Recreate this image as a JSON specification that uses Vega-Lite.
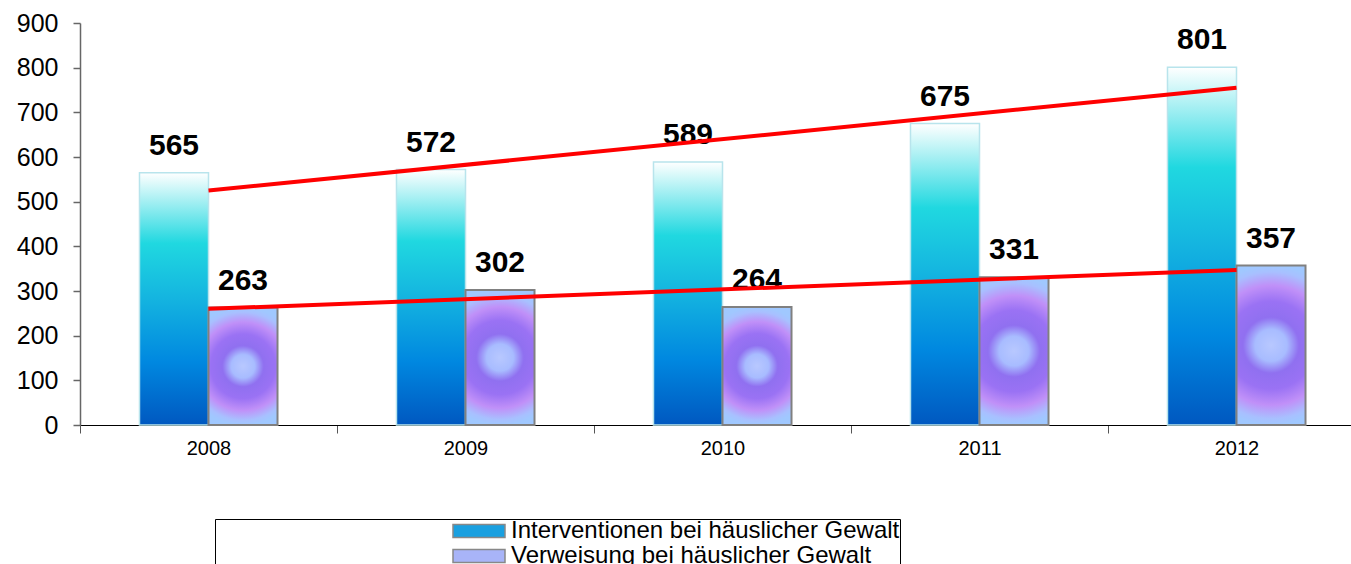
{
  "$schema": "https://vega.github.io/schema/vega-lite/v6.json",
  "width": 1271,
  "height": 402,
  "autosize": {"type": "none"},
  "padding": {"left": 80, "top": 23, "right": 0, "bottom": 139},
  "background": "white",
  "config": {"font": "Liberation Sans", "view": {"stroke": null}},
  "datasets": {
    "bars": [
      {"year": 2008, "series": "Interventionen bei häuslicher Gewalt", "value": 565},
      {"year": 2009, "series": "Interventionen bei häuslicher Gewalt", "value": 572},
      {"year": 2010, "series": "Interventionen bei häuslicher Gewalt", "value": 589},
      {"year": 2011, "series": "Interventionen bei häuslicher Gewalt", "value": 675},
      {"year": 2012, "series": "Interventionen bei häuslicher Gewalt", "value": 801},
      {"year": 2008, "series": "Verweisung bei häuslicher Gewalt", "value": 263},
      {"year": 2009, "series": "Verweisung bei häuslicher Gewalt", "value": 302},
      {"year": 2010, "series": "Verweisung bei häuslicher Gewalt", "value": 264},
      {"year": 2011, "series": "Verweisung bei häuslicher Gewalt", "value": 331},
      {"year": 2012, "series": "Verweisung bei häuslicher Gewalt", "value": 357}
    ],
    "trend": [
      {"year": 2008, "series": "Interventionen bei häuslicher Gewalt", "value": 525},
      {"year": 2012, "series": "Interventionen bei häuslicher Gewalt", "value": 755},
      {"year": 2008, "series": "Verweisung bei häuslicher Gewalt", "value": 260},
      {"year": 2012, "series": "Verweisung bei häuslicher Gewalt", "value": 347}
    ]
  },
  "layer": [
    {
      "data": {"name": "bars"},
      "mark": {"type": "bar"},
      "encoding": {
        "x": {
          "field": "year", "type": "ordinal",
          "scale": {"range": [0, 1285], "paddingInner": 0, "paddingOuter": 0},
          "axis": {"title": null, "labelAngle": 0, "labelFontSize": 20, "labelColor": "black", "tickBand": "extent", "tickSize": 8, "tickColor": "#555", "domainColor": "black", "labelPadding": 5}
        },
        "xOffset": {"field": "series", "type": "nominal", "scale": {"paddingInner": 0, "paddingOuter": 0.862}},
        "y": {
          "field": "value", "type": "quantitative",
          "scale": {"domain": [0, 900], "nice": false},
          "axis": {"title": null, "values": [0, 100, 200, 300, 400, 500, 600, 700, 800, 900], "labelFontSize": 25, "labelColor": "black", "tickSize": 7, "tickColor": "#666", "tickWidth": 1.5, "domainColor": "#666", "domainWidth": 1.5, "labelPadding": 15, "grid": false}
        },
        "color": {
          "field": "series", "type": "nominal",
          "scale": {"range": ["#1aa0e0", "#a8b4f8"]},
          "legend": {
            "orient": "none", "legendX": 135, "legendY": 496, "direction": "vertical", "title": null,
            "symbolType": "M-4.333,-1.083H4.333V1.083H-4.333Z", "symbolSize": 144,
            "symbolStrokeColor": "#888", "symbolStrokeWidth": 1.5,
            "labelFontSize": 24, "labelColor": "black", "labelLimit": 1000,
            "strokeColor": "black", "fillColor": "white", "padding": 0,
            "symbolOffset": 252, "labelOffset": 20, "rowPadding": 1
          }
        }
      }
    },
    {
      "data": {"name": "bars"},
      "transform": [{"filter": "datum.series === 'Interventionen bei häuslicher Gewalt'"}],
      "mark": {
        "type": "bar", "stroke": "#b8e4ec", "strokeWidth": 1.5,
        "fill": {"gradient": "linear", "x1": 0, "y1": 1, "x2": 0, "y2": 0, "stops": [
          {"offset": 0, "color": "#0058c0"},
          {"offset": 0.25, "color": "#0088e0"},
          {"offset": 0.5, "color": "#14b4e0"},
          {"offset": 0.72, "color": "#20d8e0"},
          {"offset": 1, "color": "#ffffff"}
        ]}
      },
      "encoding": {
        "x": {"field": "year", "type": "ordinal"},
        "xOffset": {"field": "series", "type": "nominal"},
        "y": {"field": "value", "type": "quantitative"}
      }
    },
    {
      "data": {"name": "bars"},
      "transform": [{"filter": "datum.series === 'Verweisung bei häuslicher Gewalt'"}],
      "mark": {
        "type": "bar", "stroke": "#808080", "strokeWidth": 2,
        "fill": {"gradient": "radial", "x1": 0.5, "y1": 0.5, "r1": 0, "x2": 0.5, "y2": 0.5, "r2": 0.5, "stops": [
          {"offset": 0, "color": "#b8c8ff"},
          {"offset": 0.2, "color": "#a8bcff"},
          {"offset": 0.35, "color": "#9070f0"},
          {"offset": 0.55, "color": "#9a72f4"},
          {"offset": 0.75, "color": "#c090f8"},
          {"offset": 0.92, "color": "#a8c0ff"},
          {"offset": 1, "color": "#a0c8ff"}
        ]}
      },
      "encoding": {
        "x": {"field": "year", "type": "ordinal"},
        "xOffset": {"field": "series", "type": "nominal"},
        "y": {"field": "value", "type": "quantitative"}
      }
    },
    {
      "data": {"name": "bars"},
      "mark": {"type": "text", "fontSize": 30, "fontWeight": "bold", "baseline": "alphabetic", "dy": -18, "color": "black"},
      "encoding": {
        "x": {"field": "year", "type": "ordinal"},
        "xOffset": {"field": "series", "type": "nominal"},
        "y": {"field": "value", "type": "quantitative"},
        "text": {"field": "value", "type": "quantitative"}
      }
    },
    {
      "data": {"name": "trend"},
      "mark": {"type": "line", "color": "#ff0000", "strokeWidth": 4},
      "encoding": {
        "x": {"field": "year", "type": "ordinal"},
        "y": {"field": "value", "type": "quantitative"},
        "detail": {"field": "series", "type": "nominal"}
      }
    }
  ]
}
